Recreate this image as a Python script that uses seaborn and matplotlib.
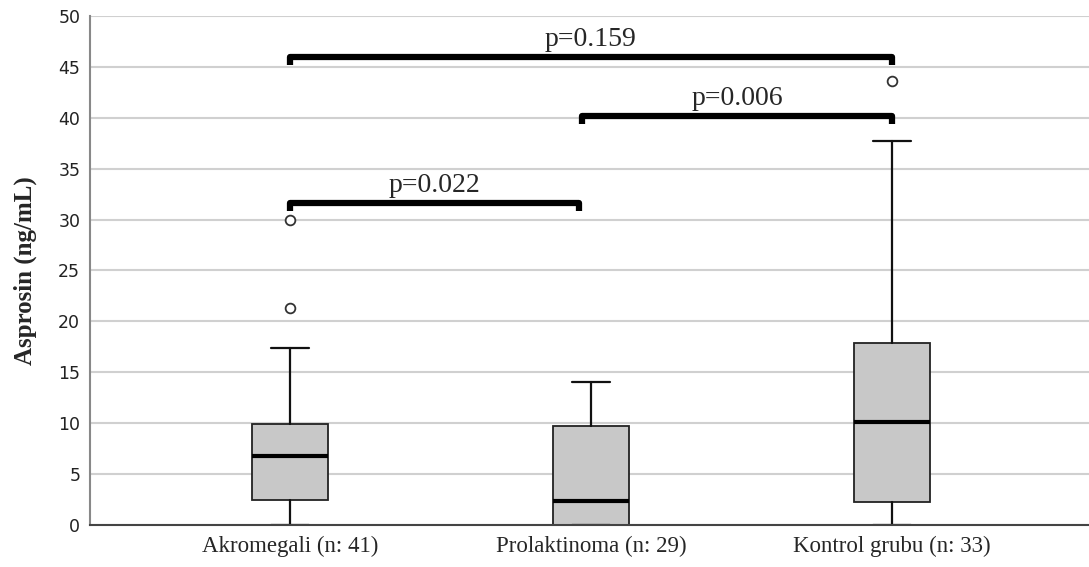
import numpy as np
import matplotlib
matplotlib.use("Agg")
import matplotlib.pyplot as plt
import seaborn as sns

# box summary values (ng/mL)
groups = ["Akromegali (n: 41)", "Prolaktinoma (n: 29)", "Kontrol grubu (n: 33)"]
medians = [6.8, 2.4, 10.15]
q1s = [2.5, 0.0, 2.25]
q3s = [9.9, 9.7, 17.9]
whis_lo = [0.0, 0.0, 0.0]
whis_hi = [17.4, 14.0, 37.75]
outliers = [[21.35, 30.0], [], [43.6]]

# pairwise comparisons: (left group, right group, bar height, label)
pairs = [(0, 0.96, 31.6, "p=0.022"),
         (0.97, 2, 40.2, "p=0.006"),
         (0, 2, 46.0, "p=0.159")]

sns.set_style("white")
plt.rcParams["font.family"] = ["Liberation Serif", "DejaVu Serif"]

fig = plt.figure(figsize=(10.89, 5.67), dpi=100)
ax = fig.add_axes([0.0826, 0.074, 0.9174, 0.898])

stats = []
for i, g in enumerate(groups):
    stats.append(dict(label=g, med=medians[i], q1=q1s[i], q3=q3s[i],
                      whislo=whis_lo[i], whishi=whis_hi[i], fliers=outliers[i]))

ax.bxp(stats, positions=range(len(groups)), widths=0.25, patch_artist=True,
       showfliers=True,
       boxprops=dict(facecolor="#c8c8c8", edgecolor="#222222", linewidth=1.3),
       medianprops=dict(color="black", linewidth=3),
       whiskerprops=dict(color="#111111", linewidth=1.6),
       capprops=dict(color="#111111", linewidth=1.6),
       capwidths=0.125,
       flierprops=dict(marker="o", markerfacecolor="white", markeredgecolor="#333333",
                       markersize=7, markeredgewidth=1.3))

for x0, x1, h, lab in pairs:
    ax.plot([x0, x0, x1, x1], [h - 0.8, h, h, h - 0.8], color="black",
            linewidth=4.5, solid_joinstyle="round", solid_capstyle="butt", zorder=5)
    ax.text((x0 + x1) / 2, h + 0.5, lab, ha="center", va="bottom", fontsize=20)

ax.set_ylim(0, 50)
ax.set_xlim(-0.664, 2.654)
ax.set_yticks(np.arange(0, 51, 5))
ax.yaxis.grid(True, color="#d0d0d0", linewidth=1.5)
ax.set_axisbelow(True)
ax.tick_params(axis="both", length=0)
ax.tick_params(axis="x", pad=8)
ax.tick_params(axis="y", pad=7, labelsize=12.5, labelcolor="#222222",
               labelfontfamily="DejaVu Sans")
ax.set_xticks(range(len(groups)))
ax.set_xticklabels(groups, fontsize=16.5)
ax.set_ylabel("Asprosin (ng/mL)", fontsize=18, fontweight="bold", labelpad=15)

sns.despine(ax=ax, top=True, right=True)
ax.spines["left"].set_color("#888888")
ax.spines["left"].set_linewidth(1.5)
ax.spines["bottom"].set_color("#444444")
ax.spines["bottom"].set_linewidth(1.5)

fig.savefig("out.png", dpi=100)
